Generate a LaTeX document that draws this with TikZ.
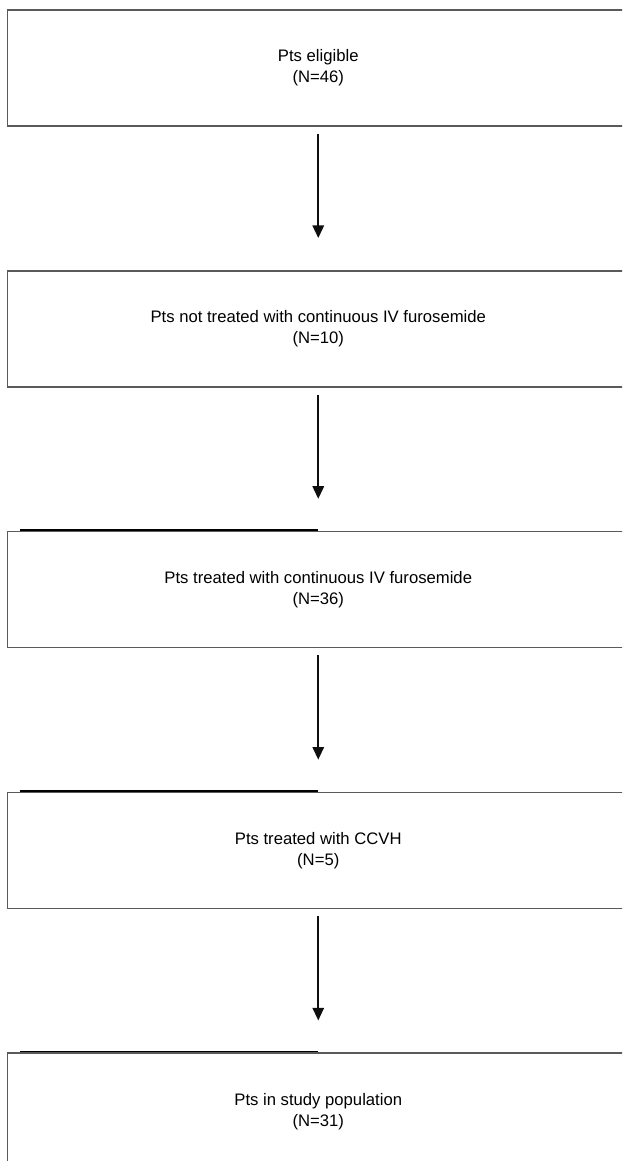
\documentclass[tikz,border=0pt]{standalone}
\usepackage{fontspec}
\setsansfont{Liberation Sans}
\usepackage{tikz}
\usetikzlibrary{arrows.meta,positioning}
\definecolor{fcedge}{RGB}{90,90,90}
\definecolor{fcink}{RGB}{15,15,15}
\tikzset{
  fcbox/.style={
    draw=fcedge, line width=1.1pt, align=center, inner sep=0pt,
    minimum width=466.1pt, minimum height=87pt,
    font=\fontsize{12.5}{15.75}\selectfont\sffamily
  },
  arr/.style={-{Triangle[length=9.5pt,width=8.5pt]}, draw=fcink, line width=1.6pt,
    shorten <=5.25pt, shorten >=24pt},
  topbar/.style={draw=black, line width=1.4pt},
  every picture/.append style={font=\sffamily, line join=miter}
}
\begin{document}
\begin{tikzpicture}[node distance=107.5pt]
  \useasboundingbox (0,0) rectangle (466.5pt,-870.75pt);
  \clip (0,0) rectangle (466.5pt,-870.75pt);
  % flow boxes, right side runs off the page
  \node[fcbox] (elig) at (238.7pt,-51pt) {Pts eligible\\(N=46)};
  \node[fcbox, below=of elig] (nottreat)
    {Pts not treated with continuous IV furosemide\\(N=10)};
  \node[fcbox, below=of nottreat] (treat)
    {Pts treated with continuous IV furosemide\\(N=36)};
  \node[fcbox, below=of treat] (ccvh) {Pts treated with CCVH\\(N=5)};
  \node[fcbox, below=of ccvh] (study) {Pts in study population\\(N=31)};
  % arrows
  \draw[arr] (elig) -- (nottreat);
  \draw[arr] (nottreat) -- (treat);
  \draw[arr] (treat) -- (ccvh);
  \draw[arr] (ccvh) -- (study);
  % dark strokes on the top edges
  \foreach \b in {treat,ccvh,study}
    \draw[topbar] ([xshift=9.75pt,yshift=0.75pt]\b.north west)
      -- ([yshift=0.75pt]\b.north);
\end{tikzpicture}
\end{document}
